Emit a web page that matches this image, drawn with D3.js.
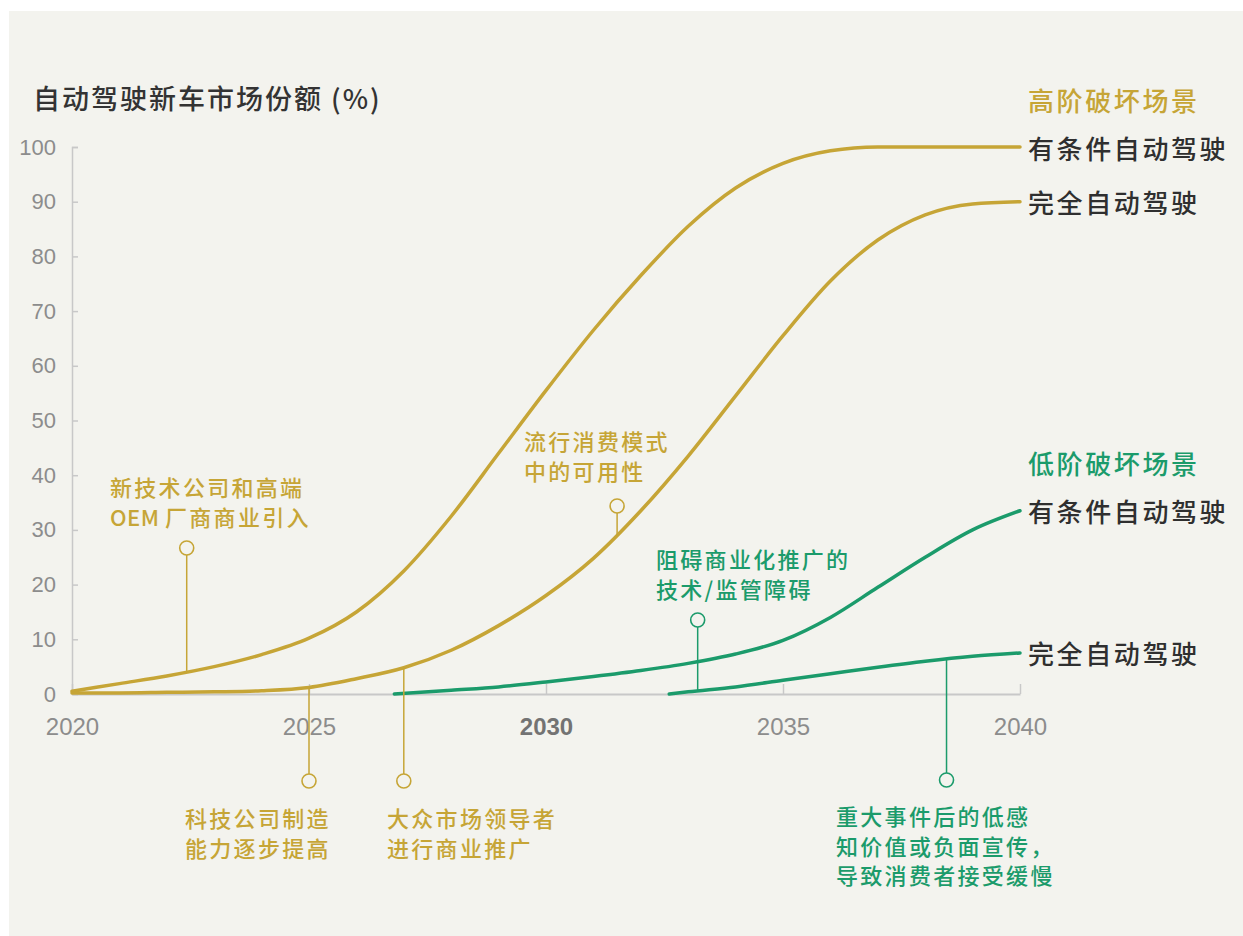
<!DOCTYPE html>
<html>
<head>
<meta charset="utf-8">
<script src="https://cdn.jsdelivr.net/npm/d3@7"></script>
<style>
  body { margin: 0; background: #fff; }
  svg text { font-family: "Noto Sans CJK SC", "Noto Sans", sans-serif; font-weight: 500; }
  .tick text { font-family: "Liberation Sans", Arial, sans-serif; font-weight: normal; }
</style>
</head>
<body>
<div class="chart"></div>
<script>
var svgWidth = 1243;
var svgHeight = 936;

// values (% of new car sales)
var years = d3.range(2020, 2041);
var highCondShare = [0.5, 1.9, 3.3, 5.0, 7.2, 10.2, 15, 22.5, 32.5, 44, 55.5, 66.5, 76.5, 85.5, 92.5, 97, 99.3, 100, 100, 100, 100];
var highFullShare = [0.2, 0.2, 0.3, 0.4, 0.6, 1.2, 2.8, 4.8, 8, 12.5, 18, 24.8, 33.5, 43.5, 54.5, 65.5, 75.5, 83, 87.6, 89.6, 90];
var lowCondYears = [2026.8, 2028, 2029, 2030, 2031, 2032, 2033, 2034, 2035, 2036, 2037, 2038, 2039, 2040];
var lowCondShare = [0, 0.7, 1.3, 2.2, 3.2, 4.3, 5.6, 7.3, 9.8, 14, 19.5, 25, 30, 33.5];
var lowFullYears = [2032.6, 2033, 2034, 2035, 2036, 2037, 2038, 2039, 2040];
var lowFullShare = [0, 0.4, 1.3, 2.5, 3.7, 4.9, 6.0, 6.9, 7.5];

var seriesNames = ["有条件自动驾驶", "完全自动驾驶", "有条件自动驾驶", "完全自动驾驶"];
var seriesGroup = [0, 0, 1, 1];
var groupNames = ["高阶破坏场景", "低阶破坏场景"];

var xTicks = [2020, 2025, 2030, 2035, 2040];
var yTicks = d3.range(0, 101, 10);
var title = "自动驾驶新车市场份额 (%)";

// annotations: text lines, year they point at, which series they touch
var annoLines = [
  ["新技术公司和高端", "OEM 厂商商业引入"],
  ["流行消费模式", "中的可用性"],
  ["阻碍商业化推广的", "技术/监管障碍"],
  ["科技公司制造", "能力逐步提高"],
  ["大众市场领导者", "进行商业推广"],
  ["重大事件后的低感", "知价值或负面宣传，", "导致消费者接受缓慢"]
];
var annoYear = [2022.42, 2031.5, 2033.2, 2025, 2027, 2038.45];
var annoSeries = [0, 1, 3, 1, 1, 3];

// layout of the annotation circles and text blocks (pixels)
var annoLayout = [
  { cy: 548, tx: 110, ty: 486 },
  { cy: 506, tx: 524, ty: 440 },
  { cy: 620, tx: 656, ty: 558 },
  { cy: 781, tx: 185, ty: 817 },
  { cy: 781, tx: 387, ty: 817 },
  { cy: 780, tx: 836, ty: 815 }
];

var groupColor = ["#c6a536", "#1b9b6b"];
var bg = "#f3f3ee";

var svg = d3.select(".chart")
  .append("svg")
  .attr("width", svgWidth)
  .attr("height", svgHeight);

svg.append("rect")
  .attr("x", 9).attr("y", 11)
  .attr("width", svgWidth - 9).attr("height", svgHeight - 11)
  .attr("fill", bg);

var xScale = d3.scaleLinear().domain([2020, 2040]).range([72, 1020]);
var yScale = d3.scaleLinear().domain([0, 100]).range([694, 147]);

// title
svg.append("text")
  .attr("x", 33)
  .attr("y", 97)
  .attr("dominant-baseline", "central")
  .style("font-size", "27px")
  .style("letter-spacing", "2px")
  .attr("fill", "#333")
  .text(title);

// y axis
var leftAxis = d3.axisLeft(yScale)
  .tickValues(yTicks)
  .tickSize(-6)
  .tickSizeOuter(-6)
  .tickPadding(16);

var yAxisG = svg.append("g")
  .attr("transform", "translate(72,0)")
  .call(leftAxis);
yAxisG.select(".domain").attr("stroke", "#c8c8c8").attr("stroke-width", 1.5);
yAxisG.selectAll(".tick line").attr("stroke", "#c8c8c8").attr("stroke-width", 1.5);
yAxisG.selectAll(".tick text").attr("fill", "#8c8c8c").style("font-size", "22px");

// x axis
var bottomAxis = d3.axisBottom(xScale)
  .tickValues(xTicks)
  .tickFormat(d3.format("d"))
  .tickSize(-10)
  .tickSizeOuter(0)
  .tickPadding(24);

var xAxisG = svg.append("g")
  .attr("transform", "translate(0,694)")
  .call(bottomAxis);
xAxisG.select(".domain").attr("stroke", "#c8c8c8").attr("stroke-width", 2);
xAxisG.selectAll(".tick line").attr("stroke", "#c8c8c8").attr("stroke-width", 1.5);
xAxisG.selectAll(".tick text")
  .attr("fill", function(d) { return d === 2030 ? "#737373" : "#8c8c8c"; })
  .style("font-weight", function(d) { return d === 2030 ? "bold" : "normal"; })
  .style("font-size", "24px");

// series
var seriesData = [
  years.map(function(y, i) { return [y, highCondShare[i]]; }),
  years.map(function(y, i) { return [y, highFullShare[i]]; }),
  lowCondYears.map(function(y, i) { return [y, lowCondShare[i]]; }),
  lowFullYears.map(function(y, i) { return [y, lowFullShare[i]]; })
];

var line = d3.line()
  .x(function(d) { return xScale(d[0]); })
  .y(function(d) { return yScale(d[1]); })
  .curve(d3.curveMonotoneX);

var paths = seriesData.map(function(data, i) {
  return svg.append("path")
    .datum(data)
    .attr("d", line)
    .attr("fill", "none")
    .attr("stroke", groupColor[seriesGroup[i]])
    .attr("stroke-width", 3.5)
    .attr("stroke-linecap", "round")
    .node();
});

// find the y of a drawn path at a given x
function yOnPath(node, px) {
  var total = node.getTotalLength();
  var lo = 0, hi = total;
  for (var k = 0; k < 40; k++) {
    var mid = (lo + hi) / 2;
    if (node.getPointAtLength(mid).x < px) lo = mid; else hi = mid;
  }
  return node.getPointAtLength((lo + hi) / 2).y;
}

// end labels + group headers
seriesData.forEach(function(data, i) {
  var last = data[data.length - 1];
  svg.append("text")
    .attr("x", 1028)
    .attr("y", yScale(last[1]))
    .attr("dominant-baseline", "central")
    .style("font-size", "26px")
    .style("letter-spacing", "2.6px")
    .attr("fill", "#2f2f2f")
    .text(seriesNames[i]);
});

groupNames.forEach(function(name, g) {
  var first = seriesData[g * 2];
  svg.append("text")
    .attr("x", 1028)
    .attr("y", yScale(first[first.length - 1][1]) - 48)
    .attr("dominant-baseline", "central")
    .style("font-size", "26px")
    .style("letter-spacing", "2.6px")
    .attr("fill", groupColor[g])
    .text(name);
});

// annotations
annoLines.forEach(function(lines, i) {
  var color = groupColor[seriesGroup[annoSeries[i]]];
  var lay = annoLayout[i];
  var cx = xScale(annoYear[i]);
  var py = yOnPath(paths[annoSeries[i]], cx);
  var r = 7;
  var fromY = lay.cy < py ? lay.cy + r : lay.cy - r;

  svg.append("line")
    .attr("x1", cx).attr("x2", cx)
    .attr("y1", fromY).attr("y2", py)
    .attr("stroke", color)
    .attr("stroke-width", 1.5);

  svg.append("circle")
    .attr("cx", cx).attr("cy", lay.cy).attr("r", r)
    .attr("fill", bg)
    .attr("stroke", color)
    .attr("stroke-width", 1.6);

  var t = svg.append("text")
    .attr("x", lay.tx)
    .attr("y", lay.ty)
    .attr("dominant-baseline", "central")
    .style("font-size", "22px")
    .attr("fill", color);

  lines.forEach(function(s, j) {
    var row = t.append("tspan")
      .attr("x", lay.tx)
      .attr("y", lay.ty + j * 29.5);
    // latin words keep normal spacing, CJK gets a little air
    var m = s.match(/^([A-Za-z]+ )(.*)$/);
    if (m) {
      row.append("tspan").style("letter-spacing", "0.5px").text(m[1]);
      row.append("tspan").style("letter-spacing", "2.3px").text(m[2]);
    } else {
      row.style("letter-spacing", "2.3px").text(s);
    }
  });
});
</script>
</body>
</html>
